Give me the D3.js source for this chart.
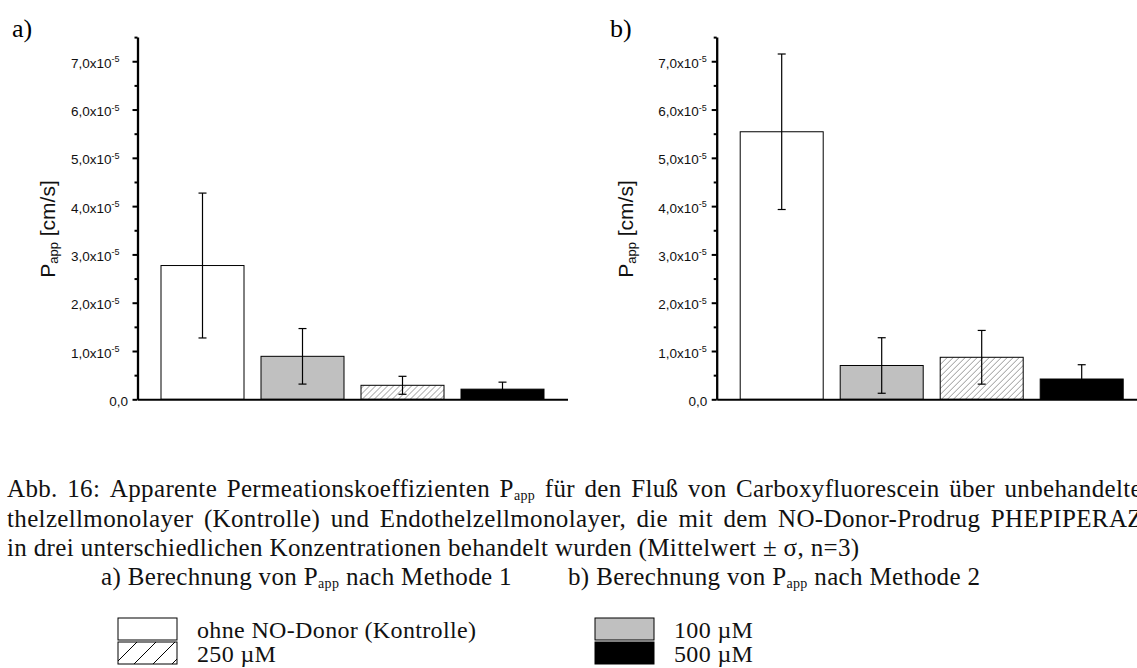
<!DOCTYPE html>
<html>
<head>
<meta charset="utf-8">
<script src="https://cdn.jsdelivr.net/npm/d3@7"></script>
<style>
  body { margin: 0; background: #fff; }
  svg { display: block; }
</style>
</head>
<body>
<div id="chart"></div>
<script>
// data (units: cm/s)
var categories = ['ohne NO-Donor (Kontrolle)', '100 µM', '250 µM', '500 µM'];
var meanA = [2.77e-5, 0.89e-5, 0.29e-5, 0.21e-5];
var sdA = [1.50e-5, 0.575e-5, 0.186e-5, 0.145e-5];
var meanB = [5.54e-5, 0.70e-5, 0.87e-5, 0.42e-5];
var sdB = [1.61e-5, 0.575e-5, 0.556e-5, 0.296e-5];
var majorTicks = [0, 1e-5, 2e-5, 3e-5, 4e-5, 5e-5, 6e-5, 7e-5];
var minorTicks = [0.5e-5, 1.5e-5, 2.5e-5, 3.5e-5, 4.5e-5, 5.5e-5, 6.5e-5, 7.5e-5];
var tickLabels = ['0,0', '1,0x10', '2,0x10', '3,0x10', '4,0x10', '5,0x10', '6,0x10', '7,0x10'];
var tickExponent = '-5';
var yMax = 7.5e-5;
var yTitle = 'P_{app} [cm/s]';
var captionLines = [
    'Abb. 16: Apparente Permeationskoeffizienten P_{app} für den Fluß von Carboxyfluorescein über unbehandelte',
    'thelzellmonolayer (Kontrolle) und Endothelzellmonolayer, die mit dem NO-Donor-Prodrug PHEPIPERAZIN',
    'in drei unterschiedlichen Konzentrationen behandelt wurden (Mittelwert ± σ, n=3)'
];
var subCaptions = ['a) Berechnung von P_{app} nach Methode 1', 'b) Berechnung von P_{app} nach Methode 2'];

var W = 1137, H = 668;
var serif = '"Liberation Serif", "Times New Roman", serif';
var sans = '"Liberation Sans", Arial, sans-serif';

var svg = d3.select('#chart').append('svg')
    .attr('width', W)
    .attr('height', H);

// hatch patterns
var defs = svg.append('defs');
var hatch = defs.append('pattern')
    .attr('id', 'hatch')
    .attr('patternUnits', 'userSpaceOnUse')
    .attr('width', 6).attr('height', 6);
hatch.append('rect').attr('width', 6).attr('height', 6).attr('fill', '#fff');
hatch.append('path')
    .attr('d', 'M-1.5,1.5 l3,-3 M0,6 l6,-6 M4.5,7.5 l3,-3')
    .attr('stroke', '#8a8a8a').attr('stroke-width', 0.9);

var hatchLegend = defs.append('pattern')
    .attr('id', 'hatchLegend')
    .attr('patternUnits', 'userSpaceOnUse')
    .attr('x', 118).attr('y', 642)
    .attr('width', 19).attr('height', 19);
hatchLegend.append('rect').attr('width', 19).attr('height', 19).attr('fill', '#fff');
hatchLegend.append('path')
    .attr('d', 'M-4.75,4.75 l9.5,-9.5 M0,19 l19,-19 M14.25,23.75 l9.5,-9.5')
    .attr('stroke', '#000').attr('stroke-width', 1);

var fills = ['#fff', '#c0c0c0', 'url(#hatch)', '#000'];
var legendFills = ['#fff', '#c0c0c0', 'url(#hatchLegend)', '#000'];

// writes "P_{app}" style strings as text with subscript tspans
function richText(sel, str, subSize, subShift) {
    var parts = str.split(/(_\{[^}]*\})/).filter(function (s) { return s.length; });
    var shifted = 0;
    parts.forEach(function (s) {
        var t = sel.append('tspan');
        if (s.indexOf('_{') === 0) {
            t.text(s.slice(2, -1)).attr('font-size', subSize).attr('dy', subShift);
            shifted = subShift;
        } else {
            t.text(s);
            if (shifted) { t.attr('dy', -shifted); shifted = 0; }
        }
    });
    return sel;
}

// scales shared by both panels
var plotW = 430;
var y = d3.scaleLinear().domain([0, yMax]).range([399.3, 37.1]);
var x = d3.scaleBand().domain(categories).range([0, plotW])
    .paddingInner(0.17).paddingOuter(0.235);

var panels = [
    { letter: 'a)', mean: meanA, sd: sdA, left: 137.5, labelGap: 18, letterX: 12, titleX: 55 },
    { letter: 'b)', mean: meanB, sd: sdB, left: 716.7, labelGap: 10, letterX: 610, titleX: 633 }
];

panels.forEach(function (p) {
    svg.append('text')
        .attr('x', p.letterX).attr('y', 37)
        .attr('font-family', serif).attr('font-size', 26)
        .text(p.letter);

    var g = svg.append('g').attr('transform', 'translate(' + p.left + ',0)');

    // bars
    g.selectAll('.bar')
        .data(p.mean)
        .enter().append('rect')
        .attr('class', 'bar')
        .attr('x', function (d, i) { return x(categories[i]); })
        .attr('y', function (d) { return y(d); })
        .attr('width', x.bandwidth())
        .attr('height', function (d) { return y(0) - y(d); })
        .attr('fill', function (d, i) { return fills[i]; })
        .attr('stroke', '#000')
        .attr('stroke-width', 1);

    // error bars (mean ± sd)
    var err = g.selectAll('.err')
        .data(p.mean)
        .enter().append('g')
        .attr('class', 'err')
        .attr('stroke', '#000')
        .attr('stroke-width', 1.2);
    var cx = function (i) { return x(categories[i]) + x.bandwidth() / 2; };
    err.append('line')
        .attr('x1', function (d, i) { return cx(i); })
        .attr('x2', function (d, i) { return cx(i); })
        .attr('y1', function (d, i) { return y(d - p.sd[i]); })
        .attr('y2', function (d, i) { return y(d + p.sd[i]); });
    [-1, 1].forEach(function (sgn) {
        err.append('line')
            .attr('x1', function (d, i) { return cx(i) - 4; })
            .attr('x2', function (d, i) { return cx(i) + 4; })
            .attr('y1', function (d, i) { return y(d + sgn * p.sd[i]); })
            .attr('y2', function (d, i) { return y(d + sgn * p.sd[i]); });
    });

    // y axis: minor then major ticks
    g.append('g')
        .call(d3.axisLeft(y).tickValues(minorTicks).tickSize(3).tickSizeOuter(0).tickFormat(''))
        .call(function (a) { a.select('.domain').remove(); })
        .selectAll('line').attr('stroke-width', 2);
    var yAxis = g.append('g')
        .call(d3.axisLeft(y).tickValues(majorTicks).tickSize(5).tickSizeOuter(0).tickFormat(''));
    yAxis.selectAll('line').attr('stroke-width', 2);
    yAxis.select('.domain').attr('stroke-width', 2.3);

    // tick labels with superscript exponent
    majorTicks.forEach(function (v, i) {
        var t = g.append('text')
            .attr('x', v === 0 ? -9.5 : -p.labelGap)
            .attr('y', y(v) + 6.5)
            .attr('text-anchor', 'end')
            .attr('font-family', sans)
            .attr('font-size', 13.5)
            .attr('fill', '#111');
        t.append('tspan').text(tickLabels[i]);
        if (v !== 0) {
            t.append('tspan').text(tickExponent).attr('font-size', 9).attr('dy', -5.5);
        }
    });

    // x axis line
    var xAxis = g.append('g')
        .attr('transform', 'translate(0,' + y(0) + ')')
        .call(d3.axisBottom(x).tickSize(0).tickSizeOuter(0).tickFormat(''));
    xAxis.select('.domain').attr('stroke-width', 2);

    // y title
    var title = svg.append('text')
        .attr('transform', 'translate(' + p.titleX + ',229) rotate(-90)')
        .attr('text-anchor', 'middle')
        .attr('font-family', sans)
        .attr('font-size', 21)
        .attr('fill', '#111');
    richText(title, yTitle, 13, 3);
});

// caption, justified like the source page
var capSize = 25, capSpacing = 0.35;

function styledText(x0, baseY) {
    return svg.append('text')
        .attr('x', x0).attr('y', baseY)
        .attr('font-family', serif).attr('font-size', capSize)
        .attr('letter-spacing', capSpacing)
        .attr('fill', '#111');
}

function wordWidth(word) {
    var t = styledText(0, 0);
    richText(t, word, 14, 3);
    var w = t.node().getComputedTextLength();
    t.remove();
    return w;
}

function captionLine(str, x0, baseY, endWord, endX) {
    var words = str.split(' ');
    var widths = words.map(wordWidth);
    var gap = capSize * 0.25 + capSpacing;
    if (endWord !== undefined) {
        var sum = d3.sum(widths.slice(0, endWord + 1));
        gap = (endX - x0 - sum) / endWord;
    }
    var cur = x0;
    words.forEach(function (w, i) {
        richText(styledText(cur, baseY), w, 14, 3);
        cur += widths[i] + gap;
    });
}

captionLine(captionLines[0], 7, 497, 11, 1142);
captionLine(captionLines[1], 7, 526.5, 8, 1170);
captionLine(captionLines[2], 7, 555.5);
captionLine(subCaptions[0], 101, 585);
captionLine(subCaptions[1], 568, 585);

// legend
var legend = svg.selectAll('.legend')
    .data(categories)
    .enter().append('g')
    .attr('class', 'legend')
    .attr('transform', function (d, i) {
        return 'translate(' + (i % 2 ? 595 : 118) + ',' + (618 + Math.floor(i / 2) * 24) + ')';
    });
legend.append('rect')
    .attr('width', 59).attr('height', 22)
    .attr('fill', function (d, i) { return legendFills[i]; })
    .attr('stroke', '#000').attr('stroke-width', 1);
legend.append('text')
    .attr('x', 79).attr('y', 20)
    .attr('font-family', serif).attr('font-size', 24)
    .attr('letter-spacing', capSpacing)
    .attr('fill', '#111')
    .text(function (d) { return d; });
</script>
</body>
</html>
